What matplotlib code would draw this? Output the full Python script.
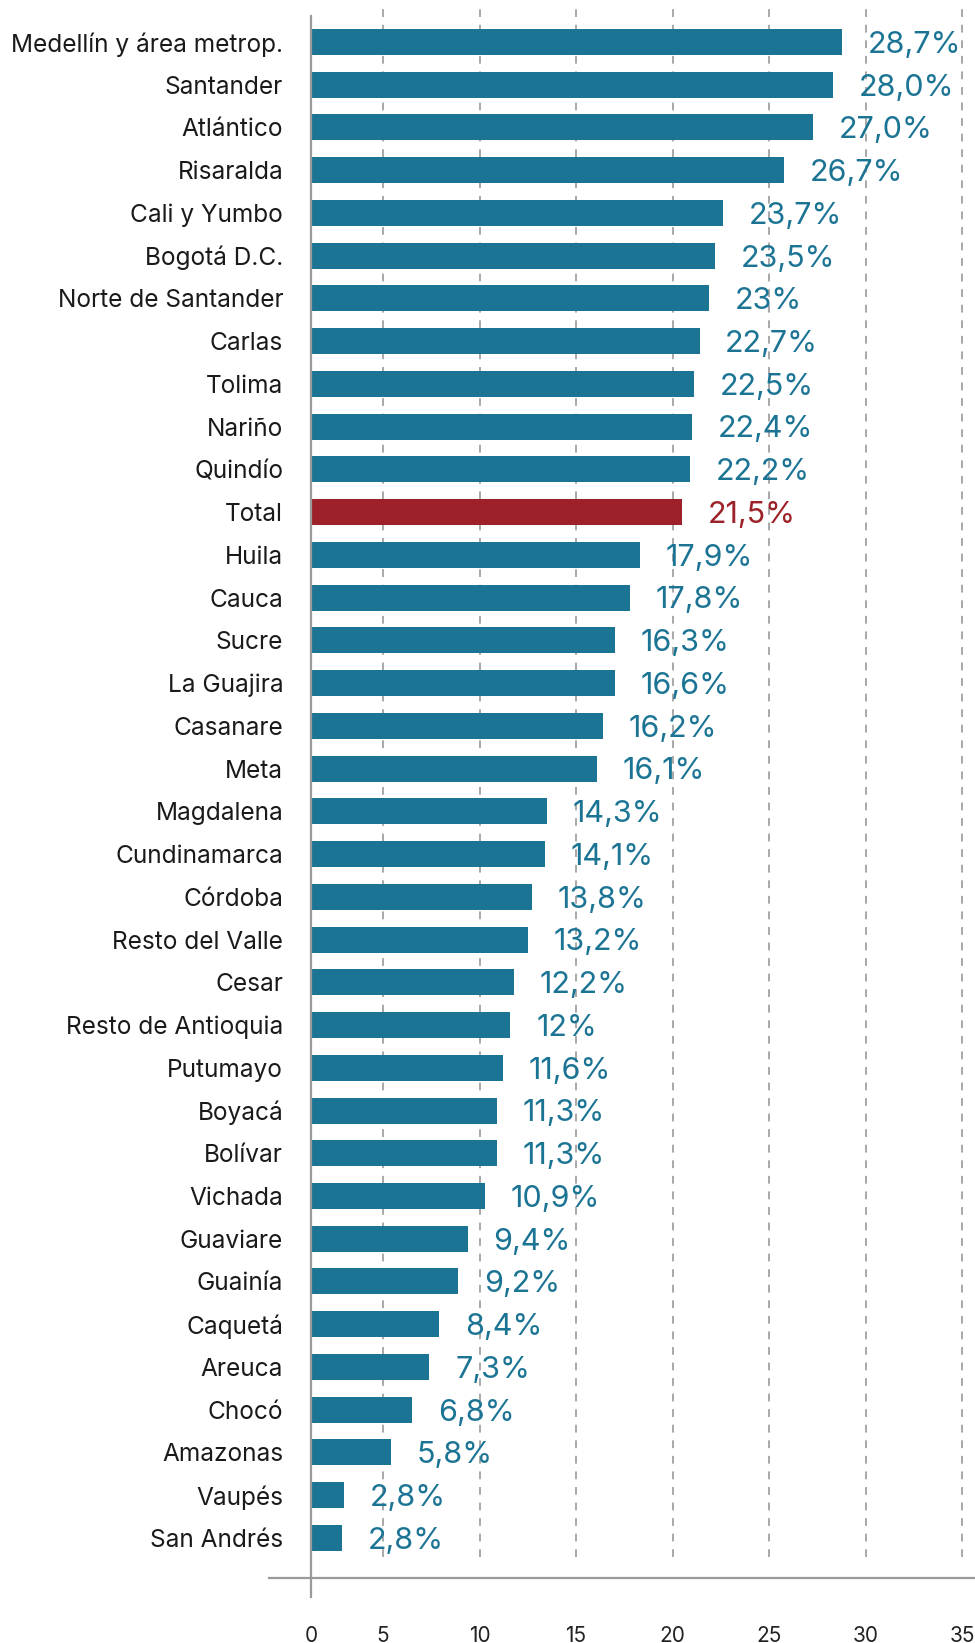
import matplotlib
matplotlib.use("Agg")
import matplotlib.pyplot as plt
from matplotlib.lines import Line2D

categories = ["Medellín y área metrop.", "Santander", "Atlántico", "Risaralda",
              "Cali y Yumbo", "Bogotá D.C.", "Norte de Santander", "Carlas",
              "Tolima", "Nariño", "Quindío", "Total", "Huila", "Cauca", "Sucre",
              "La Guajira", "Casanare", "Meta", "Magdalena", "Cundinamarca",
              "Córdoba", "Resto del Valle", "Cesar", "Resto de Antioquia",
              "Putumayo", "Boyacá", "Bolívar", "Vichada", "Guaviare", "Guainía",
              "Caquetá", "Areuca", "Chocó", "Amazonas", "Vaupés", "San Andrés"]
# bar lengths as drawn in the picture
bar_values = [28.8, 28.3, 27.3, 25.8, 22.6, 22.2, 21.9, 21.4, 21.1, 21.0, 20.9,
              20.5, 18.3, 17.8, 17.0, 17.0, 16.4, 16.1, 13.5, 13.4, 12.7, 12.5,
              11.8, 11.6, 11.2, 10.9, 10.9, 10.3, 9.4, 8.9, 7.9, 7.4, 6.5, 5.4,
              3.0, 2.9]
value_labels = ["28,7%", "28,0%", "27,0%", "26,7%", "23,7%", "23,5%", "23%",
                "22,7%", "22,5%", "22,4%", "22,2%", "21,5%", "17,9%", "17,8%",
                "16,3%", "16,6%", "16,2%", "16,1%", "14,3%", "14,1%", "13,8%",
                "13,2%", "12,2%", "12%", "11,6%", "11,3%", "11,3%", "10,9%",
                "9,4%", "9,2%", "8,4%", "7,3%", "6,8%", "5,8%", "2,8%", "2,8%"]
highlight = "Total"
tick_values = [5, 10, 15, 20, 25, 30, 35]
tick_labels = ["5", "10", "15", "20", "25", "30", "35"]

FONT = ["Inter", "DejaVu Sans"]
plt.rcParams['font.family'] = FONT

TEAL = "#1c7494"
RED = "#9c2128"
W, H = 975, 1643
fig = plt.figure(figsize=(W / 100, H / 100), dpi=100)

# axes box in pixels
ax_left_px, ax_right_px = 311, 975
ax_top_px, ax_bot_px = 9, 1597
ax = fig.add_axes([ax_left_px / W, 1 - ax_bot_px / H,
                   (ax_right_px - ax_left_px) / W, (ax_bot_px - ax_top_px) / H])

x0_px, unit_px = 286.5, 19.3
xmin = (ax_left_px - x0_px) / unit_px
xmax = (ax_right_px - x0_px) / unit_px
ax.set_xlim(xmin, xmax)

first_c, pitch = 42.0, 42.74
ylo = (ax_top_px - first_c) / pitch
yhi = (ax_bot_px - first_c) / pitch
ax.set_ylim(yhi, ylo)

n = len(categories)
ys = list(range(n))
colors = [RED if c == highlight else TEAL for c in categories]
ax.barh(ys, bar_values, height=26 / pitch, color=colors, zorder=3)

# dashed gridlines
g_top = ylo
g_bot = (1557 - first_c) / pitch
ax.vlines(tick_values, g_bot, g_top, colors="#a8a8a8", linestyles=(0, (4, 4)),
          linewidth=1.4, zorder=1)

for y, v, lab, c in zip(ys, bar_values, value_labels, colors):
    ax.annotate(lab, (v, y), xytext=(18.5, -7.8), textcoords="offset points",
                ha="left", va="baseline", color=c, fontsize=22, zorder=4,
                annotation_clip=False)

for s in ax.spines.values():
    s.set_visible(False)

ax.set_yticks(ys)
ax.set_yticklabels(categories, fontsize=17.6, color="#1a1a1a")
ax.tick_params(axis="y", length=0, pad=20)
for t in ax.get_yticklabels():
    t.set_y(t.get_position()[1])

ax.set_xticks([xmin] + tick_values)
ax.set_xticklabels(["0"] + tick_labels, fontsize=15, color="#222222")
ax.tick_params(axis="x", length=0, pad=21)

# vertical axis line
fig.add_artist(Line2D([ax_left_px / W, ax_left_px / W], [1 - 16 / H, 1 - 1597 / H],
                      color="#9a9a9a", linewidth=1.6))
# baseline
fig.add_artist(Line2D([269 / W, 1.0], [1 - 1578 / H, 1 - 1578 / H],
                      color="#9a9a9a", linewidth=1.6))

fig.savefig("out.png", dpi=100, facecolor="white")
